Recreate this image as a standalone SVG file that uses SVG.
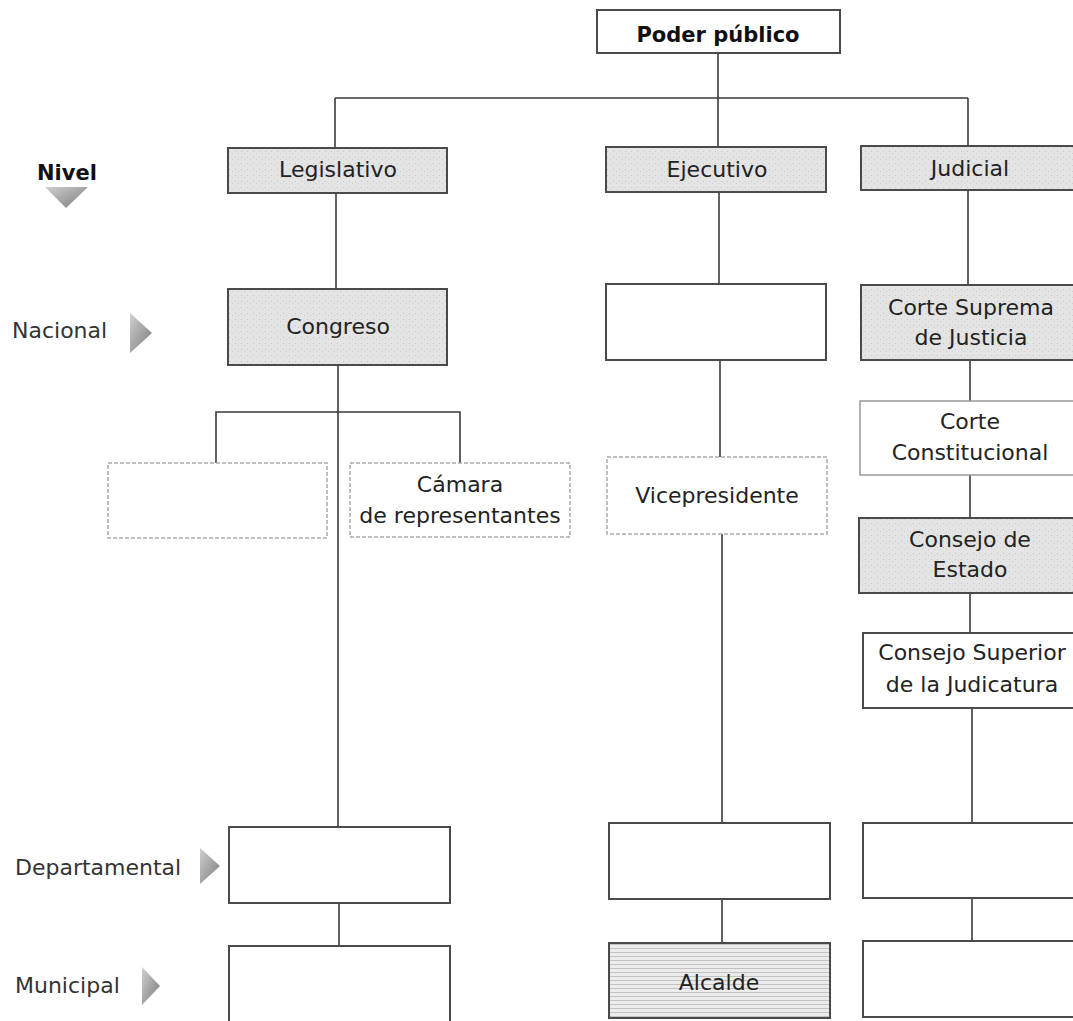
<svg xmlns="http://www.w3.org/2000/svg" width="1073" height="1021" viewBox="0 0 1073 1021">
<style>
  .box{stroke:#4a4a4a;stroke-width:2;fill:#ffffff}
  .shade{fill:url(#stipple)}
  .faint{stroke:#aaaaaa;stroke-width:1.5;stroke-dasharray:4 2;fill:#ffffff}
  .lbl{font-family:"DejaVu Sans",sans-serif;font-size:22px;fill:#222;text-anchor:middle}
  .lvl{font-family:"DejaVu Sans",sans-serif;font-size:22px;fill:#333}
  .bold{font-family:"DejaVu Sans",sans-serif;font-weight:bold;font-size:21px;fill:#111}
  .con{stroke:#3a3a3a;stroke-width:1.6;fill:none}
  .tri{fill:url(#triGrad)}
</style>
<defs>
  <pattern id="stipple" width="6" height="6" patternUnits="userSpaceOnUse">
    <rect width="6" height="6" fill="#e4e4e4"/>
    <rect x="1" y="1" width="1" height="1" fill="#c4c4c4"/>
    <rect x="4" y="3" width="1" height="1" fill="#cfcfcf"/>
  </pattern>
  <pattern id="hlines" width="4" height="4" patternUnits="userSpaceOnUse">
    <rect width="4" height="4" fill="#ececec"/>
    <rect y="0" width="4" height="1" fill="#c2c2c2"/>
  </pattern>
  <linearGradient id="triGrad" x1="0" y1="0" x2="1" y2="1">
    <stop offset="0" stop-color="#d0d0d0"/>
    <stop offset="1" stop-color="#7a7a7a"/>
  </linearGradient>
</defs>

<g id="connectors">
  <line class="con" x1="718" y1="53" x2="718" y2="98"/>
  <line class="con" x1="335" y1="98" x2="968" y2="98"/>
  <line class="con" x1="335" y1="98" x2="335" y2="148"/>
  <line class="con" x1="718" y1="98" x2="718" y2="147"/>
  <line class="con" x1="968" y1="98" x2="968" y2="146"/>
  <line class="con" x1="336" y1="193" x2="336" y2="289"/>
  <line class="con" x1="338" y1="365" x2="338" y2="827"/>
  <polyline class="con" points="216,463 216,412 460,412 460,463"/>
  <line class="con" x1="339" y1="903" x2="339" y2="946"/>
  <line class="con" x1="719" y1="192" x2="719" y2="284"/>
  <line class="con" x1="720" y1="360" x2="720" y2="457"/>
  <line class="con" x1="722" y1="534" x2="722" y2="823"/>
  <line class="con" x1="722" y1="899" x2="722" y2="943"/>
  <line class="con" x1="968" y1="190" x2="968" y2="285"/>
  <line class="con" x1="970" y1="360" x2="970" y2="401"/>
  <line class="con" x1="970" y1="475" x2="970" y2="518"/>
  <line class="con" x1="970" y1="593" x2="970" y2="633"/>
  <line class="con" x1="972" y1="708" x2="972" y2="823"/>
  <line class="con" x1="972" y1="898" x2="972" y2="941"/>
</g>

<g id="levels">
  <g id="nivel">
    <text class="bold" x="37" y="180">Nivel</text>
    <polygon class="tri" points="45,187 88,187 66,208"/>
  </g>
  <g id="nacional">
    <text class="lvl" x="12" y="338">Nacional</text>
    <polygon class="tri" points="130,313 152,333 130,353"/>
  </g>
  <g id="departamental">
    <text class="lvl" x="15" y="875">Departamental</text>
    <polygon class="tri" points="200,848 220,866 200,884"/>
  </g>
  <g id="municipal">
    <text class="lvl" x="15" y="993">Municipal</text>
    <polygon class="tri" points="142,967 160,986 142,1005"/>
  </g>
</g>

<g id="poder-publico">
  <rect class="box" x="597" y="10" width="243" height="43"/>
  <text class="bold" x="718" y="42" text-anchor="middle">Poder público</text>
</g>

<g id="legislativo">
  <rect class="box shade" x="228" y="148" width="219" height="45"/>
  <text class="lbl" x="338" y="177">Legislativo</text>
</g>
<g id="ejecutivo">
  <rect class="box shade" x="606" y="147" width="220" height="45"/>
  <text class="lbl" x="717" y="177">Ejecutivo</text>
</g>
<g id="judicial">
  <rect class="box shade" x="861" y="146" width="230" height="44"/>
  <text class="lbl" x="970" y="176">Judicial</text>
</g>

<g id="congreso">
  <rect class="box shade" x="228" y="289" width="219" height="76"/>
  <text class="lbl" x="338" y="334">Congreso</text>
</g>
<g id="ejecutivo-nacional">
  <rect class="box" x="606" y="284" width="220" height="76"/>
</g>
<g id="corte-suprema">
  <rect class="box shade" x="861" y="285" width="230" height="75"/>
  <text class="lbl" x="971" y="315">Corte Suprema</text>
  <text class="lbl" x="971" y="345">de Justicia</text>
</g>

<g id="senado">
  <rect class="faint" x="108" y="463" width="219" height="75"/>
</g>
<g id="camara">
  <rect class="faint" x="350" y="463" width="220" height="74"/>
  <text class="lbl" x="460" y="492">Cámara</text>
  <text class="lbl" x="460" y="523">de representantes</text>
</g>
<g id="vicepresidente">
  <rect class="faint" x="607" y="457" width="220" height="77"/>
  <text class="lbl" x="717" y="503">Vicepresidente</text>
</g>
<g id="corte-constitucional">
  <rect class="faint" x="860" y="401" width="230" height="74" style="stroke:#999;stroke-dasharray:none"/>
  <text class="lbl" x="970" y="429">Corte</text>
  <text class="lbl" x="970" y="460">Constitucional</text>
</g>
<g id="consejo-estado">
  <rect class="box shade" x="859" y="518" width="230" height="75"/>
  <text class="lbl" x="970" y="547">Consejo de</text>
  <text class="lbl" x="970" y="577">Estado</text>
</g>
<g id="consejo-superior">
  <rect class="box" x="863" y="633" width="230" height="75"/>
  <text class="lbl" x="972" y="660">Consejo Superior</text>
  <text class="lbl" x="972" y="692">de la Judicatura</text>
</g>

<g id="legislativo-departamental">
  <rect class="box" x="229" y="827" width="221" height="76"/>
</g>
<g id="ejecutivo-departamental">
  <rect class="box" x="609" y="823" width="221" height="76"/>
</g>
<g id="judicial-departamental">
  <rect class="box" x="863" y="823" width="230" height="75"/>
</g>

<g id="legislativo-municipal">
  <rect class="box" x="229" y="946" width="221" height="80"/>
</g>
<g id="alcalde">
  <rect class="box" x="609" y="943" width="221" height="75" style="fill:url(#hlines)"/>
  <text class="lbl" x="719" y="990">Alcalde</text>
</g>
<g id="judicial-municipal">
  <rect class="box" x="863" y="941" width="230" height="76"/>
</g>
</svg>
